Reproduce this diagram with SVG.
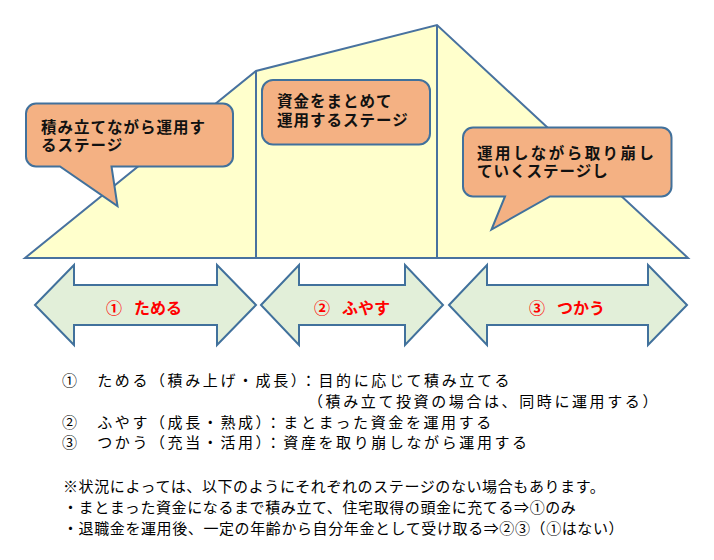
<svg xmlns="http://www.w3.org/2000/svg" width="714" height="560" viewBox="0 0 714 560">
<style>
.mtn{fill:#FFFFCC;stroke:#48729F;stroke-width:2;stroke-linejoin:miter}
.ln{fill:none;stroke:#48729F;stroke-width:2}
.call{fill:#F4B183;stroke:#41719C;stroke-width:2;stroke-linejoin:miter}
.arr{fill:#E2EFD9;stroke:#41719C;stroke-width:2;stroke-linejoin:miter}
.ct{font-family:"Noto Sans CJK JP","Noto Sans CJK SC",sans-serif;font-size:15.5px;font-weight:bold;fill:#111;letter-spacing:1px}
.at{font-family:"Noto Sans CJK JP","Noto Sans CJK SC",sans-serif;font-size:16px;font-weight:bold;fill:#FF0000}
.bt{font-family:"Noto Sans CJK JP","Noto Sans CJK SC",sans-serif;font-size:15px;fill:#000;letter-spacing:2.6px}
.nt{font-family:"Noto Sans CJK JP","Noto Sans CJK SC",sans-serif;font-size:15px;fill:#000;letter-spacing:0.6px}
</style>
<rect width="714" height="560" fill="#FFFFFF"/>
<g id="mountain">
<polygon class="mtn" points="25,258 256,71 437,25 688,258"/>
<line class="ln" x1="256" y1="71" x2="256" y2="258"/>
<line class="ln" x1="437" y1="25" x2="437" y2="258"/>
</g>
<g id="connectors"></g>
<g id="callout1">
<path class="call" d="M36,103.5 H223 A10,10 0 0 1 233,113.5 V156.5 A10,10 0 0 1 223,166.5 H111.5 L117.5,206 L60,166.5 H36 A10,10 0 0 1 26,156.5 V113.5 A10,10 0 0 1 36,103.5 Z"/>
<text class="ct" x="41" y="132.5">積み立てながら運用す</text>
<text class="ct" x="41" y="150.5">るステージ</text>
</g>
<g id="callout2">
<rect class="call" x="262" y="80" width="168" height="64.5" rx="11" ry="11"/>
<text class="ct" x="277" y="106.8">資金をまとめて</text>
<text class="ct" x="277" y="125.8">運用するステージ</text>
</g>
<g id="callout3">
<path class="call" d="M473,127.5 H661.5 A10,10 0 0 1 671.5,137.5 V186.5 A10,10 0 0 1 661.5,196.5 H550 L491.5,229.5 L505,196.5 H473 A10,10 0 0 1 463,186.5 V137.5 A10,10 0 0 1 473,127.5 Z"/>
<text class="ct" x="477" y="159.2" textLength="178" lengthAdjust="spacing">運用しながら取り崩し</text>
<text class="ct" x="477" y="177">ていくステージし</text>
</g>
<g id="arrow1">
<polygon class="arr" points="35,305 74,265 74,285 217,285 217,265 256,305 217,345 217,325 74,325 74,345"/>
<text class="at" y="314"><tspan x="106">①</tspan><tspan x="134">ためる</tspan></text>
</g>
<g id="arrow2">
<polygon class="arr" points="261,305 299,265 299,285 405,285 405,265 443,305 405,345 405,325 299,325 299,345"/>
<text class="at" y="314"><tspan x="314">②</tspan><tspan x="342">ふやす</tspan></text>
</g>
<g id="arrow3">
<polygon class="arr" points="449,305 487,265 487,285 648,285 648,265 687,305 648,345 648,325 487,325 487,345"/>
<text class="at" y="314"><tspan x="529">③</tspan><tspan x="557">つかう</tspan></text>
</g>
<g id="legend">
<text class="bt" x="62" y="385.7">①　ためる（積み上げ・成長）：目的に応じて積み立てる</text>
<text class="bt" x="308" y="406.7">（積み立て投資の場合は、同時に運用する）</text>
<text class="bt" x="62" y="427.5">②　ふやす（成長・熟成）：まとまった資金を運用する</text>
<text class="bt" x="62" y="448">③　つかう（充当・活用）：資産を取り崩しながら運用する</text>
</g>
<g id="notes">
<text class="nt" x="63" y="491.7">※状況によっては、以下のようにそれぞれのステージのない場合もあります。</text>
<text class="nt" x="63" y="512.7">・まとまった資金になるまで積み立て、住宅取得の頭金に充てる⇒①のみ</text>
<text class="nt" x="63" y="533.7">・退職金を運用後、一定の年齢から自分年金として受け取る⇒②③（①はない）</text>
</g>
</svg>
